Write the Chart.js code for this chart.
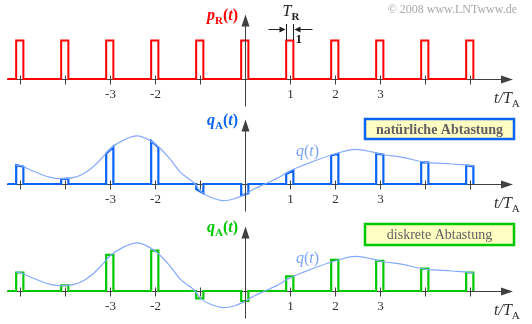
<!DOCTYPE html>
<html>
<head>
<meta charset="utf-8">
<script src="https://cdn.jsdelivr.net/npm/chart.js@4/dist/chart.umd.min.js"></script>
<style>
html, body { margin: 0; padding: 0; background: #fff; }
#wrap { position: relative; width: 532px; height: 324px; }
</style>
</head>
<body>
<div id="wrap"><canvas id="sampling" width="532" height="324"></canvas></div>
<script>
// sampling instants t/T_A and their tick labels
var samples = [-5, -4, -3, -2, -1, 0, 1, 2, 3, 4, 5];
var tickLabels = ["", "", "-3", "-2", "", "", "1", "2", "3", "", ""];

// rectangle pulse train p_R(t)
var rectHeight = 1;

// natural sampling: pulse top at left / right edge
var natStart = [0.49, 0.13, 0.79, 1.12, -0.13, -0.30, 0.26, 0.74, 0.79, 0.57, 0.48];
var natEnd   = [0.45, 0.14, 0.97, 0.95, -0.24, -0.24, 0.35, 0.79, 0.76, 0.56, 0.46];

// discrete sampling: flat pulse tops
var discrete = [0.48, 0.15, 0.94, 1.05, -0.19, -0.26, 0.38, 0.81, 0.78, 0.58, 0.48];

// source signal q(t)
var qT = [-5.1, -5.0, -4.7, -4.35, -4.05, -3.8, -3.6, -3.4, -3.2, -3.0, -2.7, -2.4, -2.1, -1.9, -1.67, -1.44, -1.11, -1.0, -0.75, -0.48, -0.25, 0, 0.2, 0.44, 0.7, 1.0, 1.3, 1.66, 2.0, 2.45, 2.8, 3.0, 3.5, 4.0, 4.6, 5.0, 5.1];
var qV = [0.49, 0.48, 0.33, 0.18, 0.14, 0.17, 0.26, 0.42, 0.65, 0.91, 1.14, 1.25, 1.12, 0.94, 0.65, 0.31, 0, -0.18, -0.35, -0.43, -0.39, -0.27, -0.13, 0, 0.14, 0.34, 0.49, 0.65, 0.78, 0.90, 0.84, 0.78, 0.69, 0.57, 0.52, 0.48, 0.46];

var pulseFrom = -0.085, pulseTo = 0.075, lineFrom = -5.28;

var serif = '"Liberation Serif", "Times New Roman", serif';
var axisColor = "#404040";
var red = "#ff0000", blue = "#0a64f5", green = "#00c800", qColor = "#86aaff";

function pulses(h1, h2) {
  var pts = [{x: lineFrom, y: 0}];
  samples.forEach(function (k, i) {
    pts.push({x: k + pulseFrom, y: 0});
    pts.push({x: k + pulseFrom, y: h1(i)});
    pts.push({x: k + pulseTo, y: h2(i)});
    pts.push({x: k + pulseTo, y: 0});
  });
  return pts;
}

var qPoints = qT.map(function (t, i) { return {x: t, y: qV[i]}; });

// panel baselines: 38.5 px per unit, canvas 324 px high
var unit = 38.5, H = 324;
function yRange(base) { var mx = base / unit; return {min: mx - H / unit, max: mx}; }
var rTop = yRange(79), rMid = yRange(184), rBot = yRange(291);

function drawParts(ctx, parts, x, y, align) {
  var w = 0;
  parts.forEach(function (p) { ctx.font = p[1]; w += ctx.measureText(p[0]).width; });
  var cx = align === "right" ? x - w : (align === "center" ? x - w / 2 : x);
  parts.forEach(function (p) {
    ctx.font = p[1];
    ctx.fillText(p[0], cx, y + (p[2] || 0));
    cx += ctx.measureText(p[0]).width;
  });
}

function arrowHead(ctx, tipX, tipY, dir) {
  ctx.beginPath();
  if (dir === "right") {
    ctx.moveTo(tipX, tipY); ctx.lineTo(tipX - 12, tipY - 4); ctx.lineTo(tipX - 12, tipY + 4);
  } else if (dir === "up") {
    ctx.moveTo(tipX, tipY); ctx.lineTo(tipX - 4, tipY + 12); ctx.lineTo(tipX + 4, tipY + 12);
  } else if (dir === "rsmall") {
    ctx.moveTo(tipX, tipY); ctx.lineTo(tipX - 6, tipY - 3); ctx.lineTo(tipX - 6, tipY + 3);
  } else {
    ctx.moveTo(tipX, tipY); ctx.lineTo(tipX + 6, tipY - 3); ctx.lineTo(tipX + 6, tipY + 3);
  }
  ctx.closePath();
  ctx.fill();
}

var axesPlugin = {
  id: "axes",
  beforeDatasetsDraw: function (chart) {
    var ctx = chart.ctx;
    ctx.save();
    ctx.strokeStyle = axisColor; ctx.fillStyle = axisColor; ctx.lineWidth = 1;
    ["yTop", "yMid", "yBot"].forEach(function (id) {
      var b = Math.round(chart.scales[id].getPixelForValue(0)) + 0.5;
      ctx.beginPath(); ctx.moveTo(7, b); ctx.lineTo(502, b); ctx.stroke();
      arrowHead(ctx, 513, b, "right");
    });
    ctx.restore();
  },
  afterDatasetsDraw: function (chart) {
    var ctx = chart.ctx, xs = chart.scales.x;
    var x0 = Math.round(xs.getPixelForValue(0)) + 0.5;
    ctx.save();
    ["yTop", "yMid", "yBot"].forEach(function (id) {
      var b = Math.round(chart.scales[id].getPixelForValue(0)) + 0.5;
      ctx.strokeStyle = axisColor; ctx.fillStyle = axisColor; ctx.lineWidth = 1;
      samples.forEach(function (k, i) {
        var x = Math.round(xs.getPixelForValue(k)) + 0.5;
        ctx.beginPath(); ctx.moveTo(x, b - 4); ctx.lineTo(x, b + 5); ctx.stroke();
        if (tickLabels[i]) {
          ctx.fillStyle = "#303030";
          ctx.font = "13px " + serif; ctx.textAlign = "center"; ctx.textBaseline = "alphabetic";
          ctx.fillText(tickLabels[i], x, b + 18);
          ctx.fillStyle = axisColor;
        }
      });
      // vertical axis
      ctx.beginPath(); ctx.moveTo(x0, b + 27); ctx.lineTo(x0, b - 54); ctx.stroke();
      arrowHead(ctx, x0, b - 65, "up");
      // t/T_A
      ctx.fillStyle = "#303030"; ctx.textAlign = "left"; ctx.textBaseline = "alphabetic";
      drawParts(ctx, [["t/T", "italic 16px " + serif], ["A", "11px " + serif, 4]], 494, b + 23, "left");
    });

    var bT = chart.scales.yTop.getPixelForValue(0);
    var bM = chart.scales.yMid.getPixelForValue(0);
    var bB = chart.scales.yBot.getPixelForValue(0);
    ctx.textBaseline = "alphabetic";

    // panel labels
    ctx.fillStyle = red;
    drawParts(ctx, [["p", "bold italic 16px " + serif], ["R", "bold 11px " + serif, 4], ["(", "bold 16px " + serif], ["t", "bold italic 16px " + serif], [")", "bold 16px " + serif]], 238, bT - 59, "right");
    ctx.fillStyle = blue;
    drawParts(ctx, [["q", "bold italic 16px " + serif], ["A", "bold 11px " + serif, 4], ["(", "bold 16px " + serif], ["t", "bold italic 16px " + serif], [")", "bold 16px " + serif]], 238, bM - 59, "right");
    ctx.fillStyle = green;
    drawParts(ctx, [["q", "bold italic 16px " + serif], ["A", "bold 11px " + serif, 4], ["(", "bold 16px " + serif], ["t", "bold italic 16px " + serif], [")", "bold 16px " + serif]], 238, bB - 59, "right");

    // q(t) labels
    ctx.fillStyle = "#7aa4f5";
    drawParts(ctx, [["q", "italic 16px " + serif], ["(", "16px " + serif], ["t", "italic 16px " + serif], [")", "16px " + serif]], 296, bM - 28, "left");
    drawParts(ctx, [["q", "italic 16px " + serif], ["(", "16px " + serif], ["t", "italic 16px " + serif], [")", "16px " + serif]], 296, bB - 28, "left");

    // T_R annotation
    var e1 = Math.round(xs.getPixelForValue(1 + pulseFrom)) + 0.5;
    var e2 = Math.round(xs.getPixelForValue(1 + pulseTo)) + 0.5;
    ctx.strokeStyle = "#202020"; ctx.fillStyle = "#202020";
    ctx.beginPath(); ctx.moveTo(e1, bT - 55); ctx.lineTo(e1, bT - 39); ctx.stroke();
    ctx.beginPath(); ctx.moveTo(e2, bT - 55); ctx.lineTo(e2, bT - 39); ctx.stroke();
    ctx.beginPath(); ctx.moveTo(e1 - 18, 29.5); ctx.lineTo(e1 - 2, 29.5); ctx.stroke();
    arrowHead(ctx, e1 - 1, 29.5, "rsmall");
    ctx.beginPath(); ctx.moveTo(e2 + 19, 29.5); ctx.lineTo(e2 + 2, 29.5); ctx.stroke();
    arrowHead(ctx, e2 + 1, 29.5, "lsmall");
    drawParts(ctx, [["T", "italic 16px " + serif], ["R", "bold 11px " + serif, 4]], e1 - 4, 16, "left");
    drawParts(ctx, [["1", "bold 13px " + serif]], e2 + 2, 43, "left");

    // copyright
    ctx.fillStyle = "#a8a8a8";
    drawParts(ctx, [["\u00a9 2008 www.LNTwww.de", "12px " + serif]], 517, 13, "right");

    // boxes
    function box(y, h, border, text, font) {
      ctx.fillStyle = "#ffffc4";
      ctx.fillRect(365, y, 149, h);
      ctx.strokeStyle = border; ctx.lineWidth = 2.5;
      ctx.strokeRect(365, y, 149, h);
      ctx.fillStyle = "#606060"; ctx.textAlign = "center"; ctx.textBaseline = "middle";
      ctx.font = font;
      ctx.fillText(text, 439.5, y + h / 2 + 1);
      ctx.textAlign = "left"; ctx.textBaseline = "alphabetic";
    }
    box(119, 20, blue, "nat\u00fcrliche Abtastung", "bold 14px " + serif);
    box(224, 21, green, "diskrete Abtastung", "14px " + serif);
    ctx.restore();
  }
};

new Chart("sampling", {
  type: "line",
  data: {
    datasets: [{
      data: pulses(function () { return rectHeight; }, function () { return rectHeight; }),
      yAxisID: "yTop", borderColor: red, borderWidth: 2
    }, {
      data: qPoints, yAxisID: "yMid", borderColor: qColor, borderWidth: 1.2,
      cubicInterpolationMode: "monotone"
    }, {
      data: pulses(function (i) { return natStart[i]; }, function (i) { return natEnd[i]; }),
      yAxisID: "yMid", borderColor: blue, borderWidth: 2.2
    }, {
      data: qPoints, yAxisID: "yBot", borderColor: qColor, borderWidth: 1.2,
      cubicInterpolationMode: "monotone"
    }, {
      data: pulses(function (i) { return discrete[i]; }, function (i) { return discrete[i]; }),
      yAxisID: "yBot", borderColor: green, borderWidth: 2.2
    }]
  },
  options: {
    responsive: false,
    animation: false,
    parsing: true,
    layout: {padding: 0},
    elements: {
      point: {radius: 0},
      line: {fill: false, tension: 0, borderJoinStyle: "miter", borderCapStyle: "butt"}
    },
    datasets: {line: {clip: false}},
    plugins: {legend: {display: false}, tooltip: {enabled: false}, title: {display: false}},
    scales: {
      x: {type: "linear", display: false, min: -245 / 45, max: (532 - 245) / 45},
      yTop: {type: "linear", display: false, min: rTop.min, max: rTop.max},
      yMid: {type: "linear", display: false, min: rMid.min, max: rMid.max},
      yBot: {type: "linear", display: false, min: rBot.min, max: rBot.max}
    }
  },
  plugins: [axesPlugin]
});
</script>
</body>
</html>
